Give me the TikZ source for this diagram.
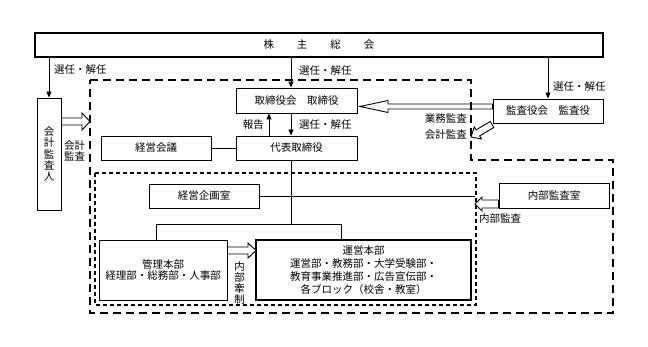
\documentclass[tikz,border=0pt]{standalone}
\usepackage{fontspec}
\setmainfont{Noto Sans CJK JP}
\usetikzlibrary{arrows.meta,calc}
\newcommand\harrow[5]{%
  \coordinate (ha-h) at ($(#2)!#5!(#1)$);
  \draw[hollowarrow] ($(#1)!#3!90:(#2)$) -- ($(ha-h)!#3!-90:(#1)$) -- ($(ha-h)!#4!-90:(#1)$) -- (#2) -- ($(ha-h)!#4!90:(#1)$) -- ($(ha-h)!#3!90:(#1)$) -- ($(#1)!#3!-90:(#2)$) -- cycle;}
\begin{document}
\begin{tikzpicture}[x=1pt,y=-1pt,
  box/.style={draw,line width=0.9pt,inner sep=0pt,align=center,font=\fontsize{10.5}{12}\selectfont},
  lbl/.style={inner sep=0pt,font=\fontsize{10.5}{12}\selectfont,align=center},
  vlbl/.style={inner sep=0pt,font=\fontsize{10.5}{11.3}\selectfont,align=center},
  arr/.style={line width=0.9pt,-{Triangle[length=6pt,width=5pt]}},
  conn/.style={line width=0.9pt},
  hollowarrow/.style={draw,line width=0.9pt,line join=miter},
  bigdash/.style={line width=1.8pt,dash pattern=on 8pt off 5pt},
  smalldash/.style={line width=1.2pt,dash pattern=on 4pt off 3pt}]
\useasboundingbox (0,0) rectangle (648,347);
% dashed regions
\draw[bigdash] (90,80) -- (471,80) -- (471,160) -- (613,160) -- (613,313) -- (90,313) -- cycle;
\draw[smalldash] (95,173) rectangle (476,305);
% boxes
\node[box,line width=1.2pt,minimum width=568pt,minimum height=24pt] (kabu) at (319,45) {株\hspace{23pt}主\hspace{23pt}総\hspace{23pt}会};
\node[box,minimum width=24pt,minimum height=112pt,font=\fontsize{10.5}{11.3}\selectfont] (kaikei) at (49,154) {会\\計\\監\\査\\人};
\node[box,minimum width=121pt,minimum height=25pt] (tori) at (296.5,100.5) {取締役会\hspace{1em}取締役};
\node[box,minimum width=121pt,minimum height=24pt] (daihyo) at (296.5,148) {代表取締役};
\node[box,minimum width=110pt,minimum height=24pt] (keikai) at (156,148) {経営会議};
\node[box,minimum width=110pt,minimum height=24pt] (kansa) at (548,111) {監査役会\hspace{1em}監査役};
\node[box,minimum width=110pt,minimum height=24pt] (kikaku) at (204,196) {経営企画室};
\node[box,minimum width=110pt,minimum height=25pt] (naibu) at (554,195.5) {内部監査室};
\node[box,minimum width=128pt,minimum height=60pt,font=\fontsize{10.5}{11.7}\selectfont] (kanri) at (163,270) {管理本部\\経理部・総務部・人事部};
\node[box,line width=1.2pt,minimum width=215pt,minimum height=60pt,font=\fontsize{10.5}{12.8}\selectfont] (unei) at (363.5,270) {運営本部\\運営部・教務部・大学受験部・\\教育事業推進部・広告宣伝部・\\各ブロック（校舎・教室）};
% election arrows
\draw[arr] (kabu.south -| kaikei) -- (kaikei.north);
\draw[arr] (kabu.south -| 291,0) -- (tori.north -| 291,0);
\draw[arr] (kabu.south -| kansa) -- (kansa.north);
\draw[arr] (daihyo.north -| 269,0) -- (tori.south -| 269,0);
\draw[arr] (tori.south -| 291,0) -- (daihyo.north -| 291,0);
% connectors
\draw[conn] (keikai.east) -- (daihyo.west);
\coordinate (jL) at (kanri.north -| 156,0);
\coordinate (jR) at (unei.north -| 341,0);
\coordinate (jc) at (291,224);
\draw[conn] (daihyo.south -| jc) -- (jc);
\draw[conn] (jL |- jc) -- (jR |- jc);
\draw[conn] (jL |- jc) -- (jL);
\draw[conn] (jR |- jc) -- (jR);
\coordinate (kend) at (475,196);
\draw[conn] (kikaku.east) -- (kend);
% hollow arrows
\coordinate (a1s) at (kansa.west |- 0,106.5);
\coordinate (a1e) at (360,106.5);
\harrow{a1s}{a1e}{2.5pt}{6pt}{28pt}
\coordinate (a2s) at (kaikei.east |- 0,121.5);
\coordinate (a2e) at (90,121.5);
\harrow{a2s}{a2e}{3.5pt}{8.5pt}{8pt}
\coordinate (a3s) at (492,124.5);
\coordinate (a3e) at (471,137);
\harrow{a3s}{a3e}{3.5pt}{7pt}{8pt}
\coordinate (a4s) at (naibu.west |- 0,204);
\coordinate (a4e) at (475,204);
\harrow{a4s}{a4e}{4pt}{7pt}{7pt}
\coordinate (a5s) at (kanri.east |- 0,250.5);
\coordinate (a5e) at (256,250.5);
\harrow{a5s}{a5e}{3.5pt}{7.5pt}{8pt}
% labels
\node[lbl,anchor=west] (l1) at (54,70) {選任・解任};
\node[lbl,anchor=west] (l2) at (299,71) {選任・解任};
\node[lbl,anchor=west] (l3) at (553,87) {選任・解任};
\node[lbl,anchor=east] (l4) at (264,125) {報告};
\node[lbl,anchor=west] (l5) at (299,125) {選任・解任};
\node[lbl,anchor=east] (l6) at (467,119) {業務監査};
\node[lbl,anchor=east] (l7) at (467,134.5) {会計監査};
\node[vlbl] (l8) at (74.5,151) {会計\\監査};
\node[lbl,anchor=west] (l9) at (479,219) {内部監査};
\node[vlbl,font=\fontsize{10.5}{10.7}\selectfont] (l10) at (239.5,283) {内\\部\\牽\\制};
\end{tikzpicture}
\end{document}
